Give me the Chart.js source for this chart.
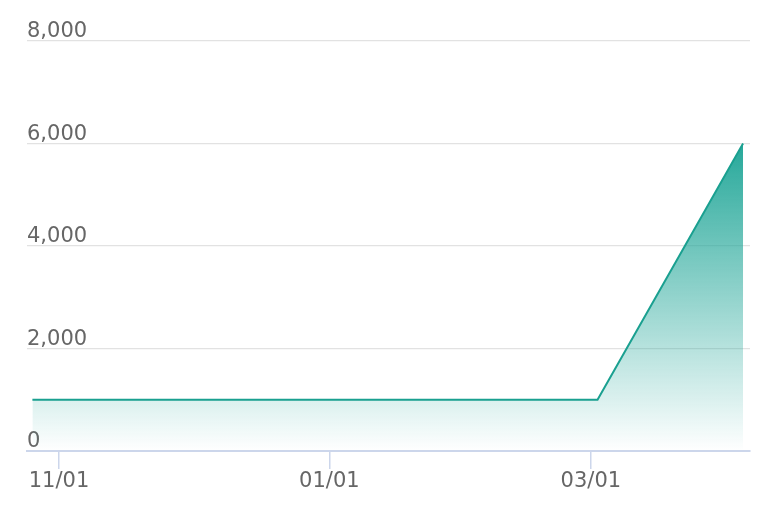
<!DOCTYPE html>
<html>
<head>
<meta charset="utf-8">
<script src="https://cdn.jsdelivr.net/npm/chart.js@4/dist/chart.umd.min.js"></script>
<style>
html,body{margin:0;padding:0;background:#fff;}
#wrap{width:776px;height:512px;position:relative;}
</style>
</head>
<body>
<div id="wrap"><canvas id="c" width="776" height="512"></canvas></div>
<script>
// Data
const dates = ['2022-10-26', '2023-03-02T12:00', '2023-04-04T08:00'];
const values = [1000, 1000, 6000];
const tickDates = ['2022-11-01', '2023-01-01', '2023-03-01'];
const tickLabels = ['11/01', '01/01', '03/01'];
const yTicks = [0, 2000, 4000, 6000, 8000];

const ORIGIN = Date.UTC(2022, 10, 1);
function dayIndex(s) {
  const [datePart, timePart] = s.split('T');
  const [y, m, d] = datePart.split('-').map(Number);
  const h = timePart ? Number(timePart.split(':')[0]) : 0;
  return (Date.UTC(y, m - 1, d, h) - ORIGIN) / 86400000;
}
const points = dates.map((d, i) => ({x: dayIndex(d), y: values[i]}));
const tickPos = tickDates.map(dayIndex);

const FONT = {family: 'DejaVu Sans', size: 21};

new Chart(document.getElementById('c'), {
  type: 'line',
  data: {
    datasets: [{
      data: points,
      borderColor: '#1aa090',
      borderWidth: 2,
      pointRadius: 0,
      tension: 0,
      fill: 'origin',
      backgroundColor: (ctx) => {
        const chart = ctx.chart;
        const {chartArea, scales} = chart;
        if (!chartArea) return 'rgba(38,166,154,0.3)';
        const top = scales.y.getPixelForValue(Math.max(...values));
        const bot = scales.y.getPixelForValue(0);
        const g = chart.ctx.createLinearGradient(0, top, 0, bot);
        g.addColorStop(0, 'rgba(38,168,154,1)');
        g.addColorStop(1, 'rgba(38,168,154,0)');
        return g;
      }
    }]
  },
  options: {
    responsive: false,
    animation: false,
    layout: {padding: {left: 27, right: 26, top: 41, bottom: 0}},
    plugins: {legend: {display: false}, tooltip: {enabled: false}},
    scales: {
      x: {
        type: 'linear',
        min: -7.22,
        max: 155.9,
        afterBuildTicks: (s) => { s.ticks = tickPos.map(v => ({value: v})); },
        afterFit: (s) => { s.height = 61; },
        ticks: {
          autoSkip: false,
          maxRotation: 0,
          color: '#666666',
          font: FONT,
          padding: 0,
          callback: (v) => {
            const i = tickPos.indexOf(v);
            return i >= 0 ? tickLabels[i] : '';
          }
        },
        grid: {
          drawOnChartArea: false,
          drawTicks: true,
          tickLength: 18,
          color: '#ccd6eb',
          lineWidth: 1.5
        },
        border: {display: true, color: '#ccd6eb', width: 2}
      },
      y: {
        min: 0,
        max: 8000,
        afterBuildTicks: (s) => { s.ticks = yTicks.map(v => ({value: v})); },
        afterFit: (s) => { s.width = 0; },
        ticks: {
          mirror: true,
          padding: 0,
          labelOffset: -9,
          color: '#666666',
          font: FONT,
          callback: (v) => v.toLocaleString('en-US')
        },
        grid: {
          color: (ctx) => ctx.tick && ctx.tick.value === 0 ? 'rgba(0,0,0,0)' : '#e2e2e2',
          lineWidth: 1.3,
          drawTicks: false
        },
        border: {display: false}
      }
    }
  }
});
</script>
</body>
</html>
